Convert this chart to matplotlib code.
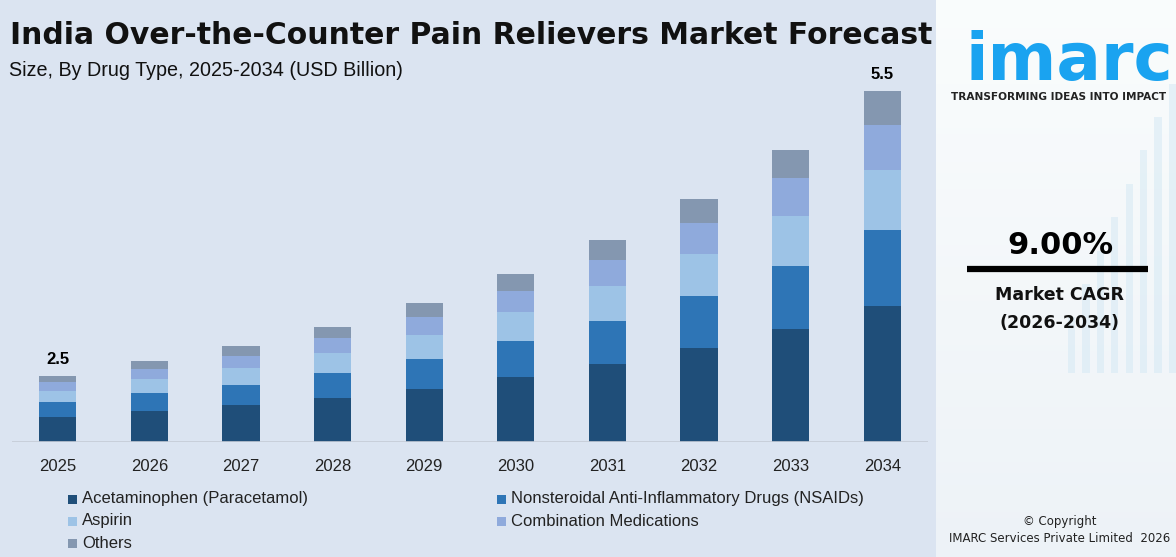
import matplotlib
matplotlib.use("Agg")
import matplotlib.pyplot as plt
import numpy as np

years = ["2025", "2026", "2027", "2028", "2029", "2030", "2031", "2032", "2033", "2034"]
acetaminophen = [0.39, 0.49, 0.58, 0.69, 0.83, 1.02, 1.22, 1.47, 1.77, 2.13]
nsaids = [0.24, 0.27, 0.31, 0.39, 0.47, 0.56, 0.67, 0.81, 0.99, 1.19]
aspirin = [0.17, 0.22, 0.27, 0.31, 0.38, 0.45, 0.55, 0.66, 0.78, 0.94]
combination = [0.14, 0.16, 0.19, 0.24, 0.28, 0.33, 0.41, 0.49, 0.60, 0.71]
others = [0.09, 0.13, 0.16, 0.17, 0.22, 0.27, 0.31, 0.38, 0.44, 0.53]
series_names = ["Acetaminophen (Paracetamol)", "Nonsteroidal Anti-Inflammatory Drugs (NSAIDs)",
                "Aspirin", "Combination Medications", "Others"]
end_labels = {0: "2.5", 9: "5.5"}

colors = ["#1f4e79", "#2e75b6", "#9dc3e6", "#8faadc", "#8497b0"]
BG = "#dbe4f1"
W, H = 1176, 557
fig = plt.figure(figsize=(W / 100, H / 100), dpi=100, facecolor=BG)

def px_axes(x0, y0, x1, y1, **kw):
    return fig.add_axes([x0 / W, 1 - y1 / H, (x1 - x0) / W, (y1 - y0) / H], **kw)

# right panel
rp = px_axes(936, 0, 1176, 557)
grad = np.linspace(0, 1, 100).reshape(-1, 1)
rp.imshow(np.dstack([0.93 + 0.05 * grad, 0.95 + 0.04 * grad, 0.97 + 0.02 * grad]),
          extent=[0, 1, 0, 1], aspect="auto", origin="lower")
for i, h in enumerate([0.10, 0.16, 0.22, 0.28, 0.34, 0.40, 0.46, 0.52]):
    rp.add_patch(plt.Rectangle((0.55 + i * 0.06, 0.33), 0.03, h, color="#cfe6f3", alpha=0.45, lw=0))
rp.set_xlim(0, 1); rp.set_ylim(0, 1); rp.axis("off")

rp.text(0.99, 1 - 80 / H, "imarc", fontsize=47.5, fontweight="bold", color="#1aa3f0",
        ha="right", va="baseline", family="DejaVu Sans", transform=rp.transAxes)
rp.text(0.51, 1 - 97 / H, "TRANSFORMING IDEAS INTO IMPACT", fontsize=7.6, fontweight="bold",
        color="#222222", ha="center", va="center", family="DejaVu Sans", transform=rp.transAxes)
rp.text(0.52, 0.56, "9.00%", fontsize=22, fontweight="bold", color="#000000",
        ha="center", va="center", family="DejaVu Sans", transform=rp.transAxes)
rp.plot([0.13, 0.885], [0.517, 0.517], color="#000000", lw=4.5, solid_capstyle="butt")
rp.text(0.515, 0.47, "Market CAGR", fontsize=12.5, fontweight="bold", color="#111111",
        ha="center", va="center", family="DejaVu Sans", transform=rp.transAxes)
rp.text(0.515, 0.42, "(2026-2034)", fontsize=12.5, fontweight="bold", color="#111111",
        ha="center", va="center", family="DejaVu Sans", transform=rp.transAxes)
rp.text(0.515, 0.063, "© Copyright", fontsize=8.5, color="#222222",
        ha="center", va="center", family="DejaVu Sans", transform=rp.transAxes)
rp.text(0.515, 0.033, "IMARC Services Private Limited  2026", fontsize=8.5, color="#222222",
        ha="center", va="center", family="DejaVu Sans", transform=rp.transAxes)

# main chart
ax = px_axes(12, 60, 928, 442)
ax.set_facecolor(BG)
x = np.arange(len(years))
bottom = np.zeros(len(years))
data = [acetaminophen, nsaids, aspirin, combination, others]
for vals, c, name in zip(data, colors, series_names):
    ax.bar(x, vals, width=0.404, bottom=bottom, color=c, label=name, lw=0)
    bottom += np.array(vals)
ax.set_xlim(-0.5, 9.5)
ax.set_ylim(0, 5.5 * 382 / 351)
ax.axhline(0, color="#c5cbd6", lw=1.2)
for s in ax.spines.values():
    s.set_visible(False)
ax.set_yticks([])
ax.set_xticks(x)
ax.set_xticklabels(years, fontsize=12, color="#222222", family="Liberation Sans")
ax.tick_params(axis="x", length=0, pad=12)
for i, lab in end_labels.items():
    ax.annotate(lab, (x[i], bottom[i]), xytext=(0, 6.5), textcoords="offset points",
                ha="center", va="bottom", fontsize=12, fontweight="bold", family="Liberation Sans")

fig.text(10 / W, 1 - 36 / H, "India Over-the-Counter Pain Relievers Market Forecast",
         fontsize=21.5, fontweight="bold", family="DejaVu Sans", ha="left", va="center", color="#111111")
fig.text(9 / W, 1 - 70 / H, "Size, By Drug Type, 2025-2034 (USD Billion)",
         fontsize=14.2, family="Liberation Sans", ha="left", va="center", color="#111111")

# legend
pos = [(68, 499), (497, 499), (68, 521), (497, 521), (68, 543)]
for (lx, ly), c, name in zip(pos, colors, series_names):
    fig.patches.append(plt.Rectangle((lx / W, 1 - (ly + 4.5) / H), 9 / W, 9 / H,
                                     transform=fig.transFigure, color=c, lw=0))
    fig.text((lx + 14) / W, 1 - ly / H, name, fontsize=12, family="Liberation Sans",
             ha="left", va="center", color="#222222")

fig.savefig("out.png", dpi=100, facecolor=BG)
